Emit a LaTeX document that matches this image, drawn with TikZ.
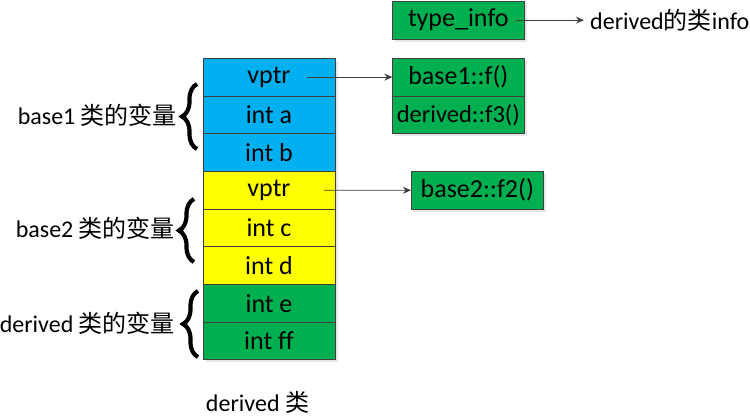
\documentclass[tikz,border=0pt]{standalone}
\usepackage{fontspec}
\setmainfont{Carlito}[Ligatures=NoCommon]
\newfontfamily\cjk{Noto Sans CJK SC}
\usepackage{tikz}
\usetikzlibrary{positioning, arrows.meta, shadows, decorations.pathreplacing}
\definecolor{cblue}{RGB}{0,176,240}
\definecolor{cyellow}{RGB}{255,255,0}
\definecolor{cgreen}{RGB}{0,176,80}
\definecolor{cline}{RGB}{64,64,64}

\begin{document}
\begin{tikzpicture}[x=1pt, y=-1pt, node distance=0pt,
	cell/.style={draw=cline, line width=0.9pt, outer sep=0pt, minimum width=132pt, minimum height=37.7pt, inner sep=0pt, font=\fontsize{26}{30}\selectfont, drop shadow={opacity=0.2, shadow xshift=2.5pt, shadow yshift=-2.5pt}},
	ptr/.style={draw=cline, line width=0.9pt, -{Stealth[length=8pt, width=7pt]}},
	lbl/.style={font=\fontsize{24}{28}\selectfont, inner sep=0pt},
	brc/.style={decorate, decoration={brace, amplitude=15pt}, line width=4.2pt}]
\useasboundingbox (0, 0) rectangle (750, 417);
\node[cell, fill=cblue] (vp1) at (269, 77.15) {vptr};
\node[cell, fill=cblue, below=of vp1] (ia) {int a};
\node[cell, fill=cblue, below=of ia] (ib) {int b};
\node[cell, fill=cyellow, below=of ib] (vp2) {vptr};
\node[cell, fill=cyellow, below=of vp2] (ic) {int c};
\node[cell, fill=cyellow, below=of ic] (id) {int d};
\node[cell, fill=cgreen, below=of id] (ie) {int e};
\node[cell, fill=cgreen, below=of ie] (iff) {int ff};

\node[cell, fill=cgreen, minimum height=38.3pt] (ti) at (458.3, 20.15) {type\_info};
\node[cell, fill=cgreen] (f1) at (458.3, 77.15) {base1::f()};
\node[cell, fill=cgreen, below=of f1, font=\fontsize{24.5}{28}\selectfont] (f3) {derived::f3()};
\node[cell, fill=cgreen, minimum width=132.7pt] (f2) at (477.3, 190.25) {base2::f2()};
\node[lbl, anchor=west] (info) at (590, 20.15) {derived{\cjk 的类}info};

\coordinate[right=38pt of vp1.center] (p1);
\coordinate[right=55pt of vp2.center] (p2);
\coordinate[right=58pt of ti.center] (p0);
\coordinate[left=6pt of info.west] (q0);
\draw[ptr] (p1) -- (f1);
\draw[ptr] (p2) -- (f2);
\draw[ptr] (p0) -- (q0);

\coordinate (b1t) at (197, 84);
\coordinate (b1b) at (197, 149);
\coordinate (b2t) at (194, 199);
\coordinate (b2b) at (194, 262);
\coordinate (b3t) at (198, 291);
\coordinate (b3b) at (198, 357);
\draw[brc] (b1b) -- (b1t);
\draw[brc] (b2b) -- (b2t);
\draw[brc] (b3b) -- (b3t);
\node[lbl, anchor=east] (l1) at (177, 115) {base1 {\cjk 类的变量}};
\node[lbl, anchor=east] (l2) at (175, 228) {base2 {\cjk 类的变量}};
\node[lbl, anchor=east] (l3) at (175, 323) {derived {\cjk 类的变量}};
\node[lbl] (cls) at (257.5, 402) {derived {\cjk 类}};
\end{tikzpicture}
\end{document}
